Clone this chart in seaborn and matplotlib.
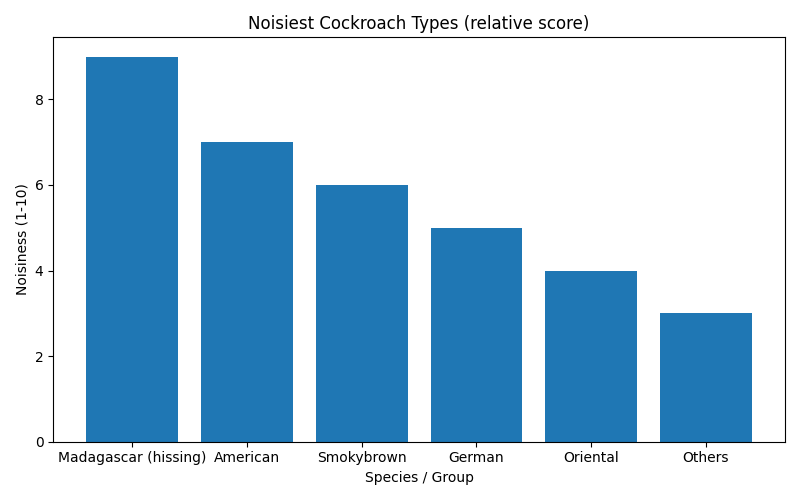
import matplotlib
matplotlib.use("Agg")
import matplotlib.pyplot as plt
import seaborn as sns
import pandas as pd

species = ["Madagascar (hissing)", "American", "Smokybrown", "German", "Oriental", "Others"]
noisiness = [9, 7, 6, 5, 4, 3]

df = pd.DataFrame({"species": species, "noisiness": noisiness})

fig, ax = plt.subplots(figsize=(8, 5), dpi=100)
sns.barplot(data=df, x="species", y="noisiness", color="#1f77b4",
            saturation=1, width=0.8, ax=ax)

# match matplotlib's default 5% margins instead of seaborn's category padding
n = len(species)
pad = 0.05 * (n - 1 + 0.8)
ax.set_xlim(-0.4 - pad, n - 1 + 0.4 + pad)
ax.set_ylim(0, max(noisiness) * 1.05)

ax.set_title("Noisiest Cockroach Types (relative score)")
ax.set_xlabel("Species / Group")
ax.set_ylabel("Noisiness (1-10)")
plt.tight_layout()
plt.savefig("out.png", dpi=100)
